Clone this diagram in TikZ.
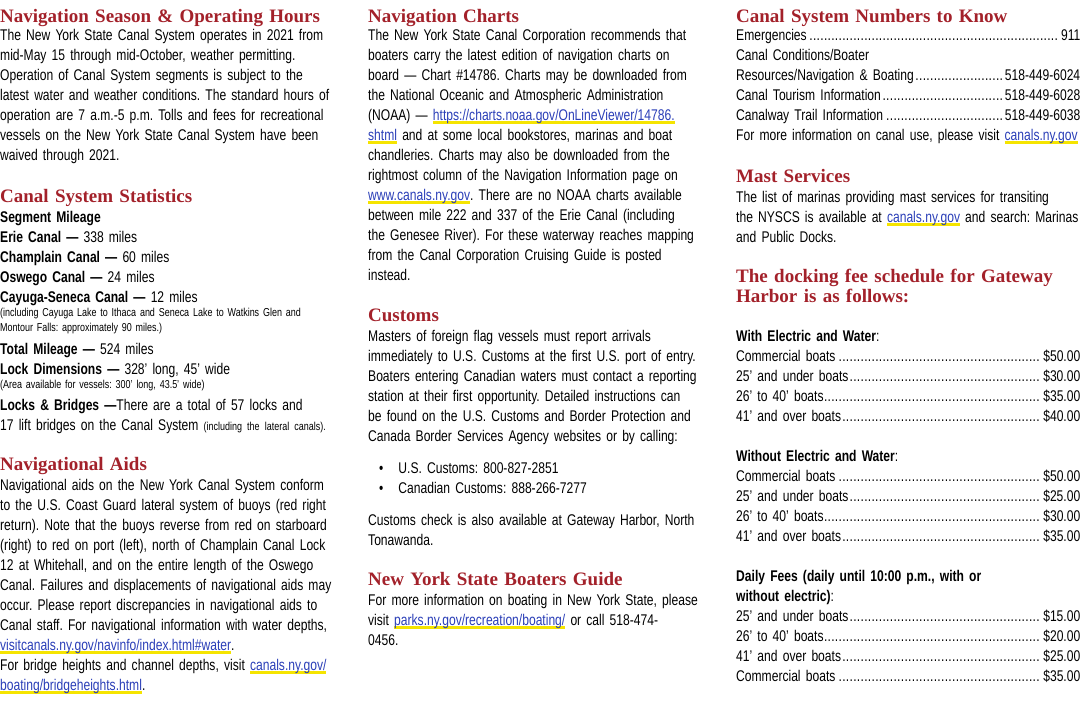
\documentclass[tikz,border=0pt]{standalone}
\usepackage{fontspec}
\setmainfont[FakeStretch=0.78]{Liberation Sans}
\newfontfamily\headfont{Liberation Serif}
\definecolor{headred}{HTML}{A3212A}
\definecolor{linkblue}{HTML}{2B3FB8}
\definecolor{linkyellow}{HTML}{F5E400}
\newcommand\body{\fontsize{15.5}{20}\selectfont\frenchspacing}
\newcommand\smalltxt{\fontsize{11.5}{20}\selectfont}
\newcommand\dotlead{\leaders\hbox{.\kern0.3pt}\hskip 0pt plus 1fill}
\newsavebox\lnkbox
\newcommand\lnk[1]{\leavevmode\sbox\lnkbox{\textcolor{linkblue}{#1}}\rlap{\textcolor{linkyellow}{\rule[-.45ex]{\wd\lnkbox}{.3ex}}}\usebox\lnkbox}
\begin{document}
\begin{tikzpicture}
	[
		x=1pt,y=-1pt,
		txt/.style={anchor=north west,inner sep=0pt,align=left,font=\body,text width=360pt},
		fee/.style={txt,text width=344pt},
		head/.style={anchor=north west,inner sep=0pt,align=left,text width=360pt,
			font=\headfont\bfseries\fontsize{19}{20}\selectfont,text=headred}
	]
	\useasboundingbox[fill=white] (0,0) rectangle (1080,720);
	
	% Left column.
	\node[head] (season) at (0,8) {\strut Navigation Season \& Operating Hours};
	\node[txt] (seasontxt) at (0,26) {\strut The New York State Canal System operates in 2021 from\\
		mid-May 15 through mid-October, weather permitting.\\
		Operation of Canal System segments is subject to the\\
		latest water and weather conditions. The standard hours of\\
		operation are 7 a.m.-5 p.m. Tolls and fees for recreational\\
		vessels on the New York State Canal System have been\\
		waived through 2021.};
	\node[head] (stats) at (0,188) {\strut Canal System Statistics};
	\node[txt] (mileage) at (0,208) {\strut\textbf{Segment Mileage}\\
		\textbf{Erie Canal —} 338 miles\\
		\textbf{Champlain Canal —} 60 miles\\
		\textbf{Oswego Canal —} 24 miles\\
		\textbf{Cayuga-Seneca Canal —} 12 miles};
	\node[txt,font=\fontsize{11.5}{15}\selectfont\frenchspacing] (cayuga) at (0,308) {(including Cayuga Lake to Ithaca and Seneca Lake to Watkins Glen and\\
		Montour Falls: approximately 90 miles.)};
	\node[txt] (total) at (0,340) {\strut\textbf{Total Mileage —} 524 miles\\
		\textbf{Lock Dimensions —} 328’ long, 45’ wide};
	\node[txt,font=\fontsize{11.5}{15}\selectfont\frenchspacing] (area) at (0,380) {(Area available for vessels: 300’ long, 43.5’ wide)};
	\node[txt] (locks) at (0,396) {\strut\textbf{Locks \& Bridges —}There are a total of 57 locks and\\
		17 lift bridges on the Canal System {\smalltxt(including the lateral canals).}};
	\node[head] (aids) at (0,456) {\strut Navigational Aids};
	\node[txt] (aidstxt) at (0,476) {\strut Navigational aids on the New York Canal System conform\\
		to the U.S. Coast Guard lateral system of buoys (red right\\
		return). Note that the buoys reverse from red on starboard\\
		(right) to red on port (left), north of Champlain Canal Lock\\
		12 at Whitehall, and on the entire length of the Oswego\\
		Canal. Failures and displacements of navigational aids may\\
		occur. Please report discrepancies in navigational aids to\\
		Canal staff. For navigational information with water depths,\\
		\lnk{visitcanals.ny.gov/navinfo/index.html\#water}.\\
		For bridge heights and channel depths, visit \lnk{canals.ny.gov/}\\
		\lnk{boating/bridgeheights.html}.};
	
	% Middle column.
	\node[head] (charts) at (368,8) {\strut Navigation Charts};
	\node[txt] (chartstxt) at (368,26) {\strut The New York State Canal Corporation recommends that\\
		boaters carry the latest edition of navigation charts on\\
		board — Chart \#14786. Charts may be downloaded from\\
		the National Oceanic and Atmospheric Administration\\
		(NOAA) — \lnk{https://charts.noaa.gov/OnLineViewer/14786.}\\
		\lnk{shtml} and at some local bookstores, marinas and boat\\
		chandleries. Charts may also be downloaded from the\\
		rightmost column of the Navigation Information page on\\
		\lnk{www.canals.ny.gov}. There are no NOAA charts available\\
		between mile 222 and 337 of the Erie Canal (including\\
		the Genesee River). For these waterway reaches mapping\\
		from the Canal Corporation Cruising Guide is posted\\
		instead.};
	\node[head] (customs) at (368,307) {\strut Customs};
	\node[txt] (customstxt) at (368,327) {\strut Masters of foreign flag vessels must report arrivals\\
		immediately to U.S. Customs at the first U.S. port of entry.\\
		Boaters entering Canadian waters must contact a reporting\\
		station at their first opportunity. Detailed instructions can\\
		be found on the U.S. Customs and Border Protection and\\
		Canada Border Services Agency websites or by calling:};
	\node[txt] (bullets) at (368,459) {\strut\hspace*{11pt}•\hspace{15pt}U.S. Customs: 800-827-2851\\
		\hspace*{11pt}•\hspace{15pt}Canadian Customs: 888-266-7277};
	\node[txt] (gateway) at (368,511) {\strut Customs check is also available at Gateway Harbor, North\\
		Tonawanda.};
	\node[head] (guide) at (368,571) {\strut New York State Boaters Guide};
	\node[txt] (guidetxt) at (368,591) {\strut For more information on boating in New York State, please\\
		visit \lnk{parks.ny.gov/recreation/boating/} or call 518-474-\\
		0456.};
	
	% Right column.
	\node[head] (numbers) at (736,8) {\strut Canal System Numbers to Know};
	\node[fee] (numberstxt) at (736,26) {\strut Emergencies\dotlead 911\\
		Canal Conditions/Boater\\
		Resources/Navigation \& Boating\dotlead 518-449-6024\\
		Canal Tourism Information\dotlead 518-449-6028\\
		Canalway Trail Information\dotlead 518-449-6038\\
		For more information on canal use, please visit \lnk{canals.ny.gov}};
	\node[head] (mast) at (736,168) {\strut Mast Services};
	\node[txt] (masttxt) at (736,188) {\strut The list of marinas providing mast services for transiting\\
		the NYSCS is available at \lnk{canals.ny.gov} and search: Marinas\\
		and Public Docks.};
	\node[head] (docking) at (736,268) {\strut The docking fee schedule for Gateway\\
		Harbor is as follows:};
	\node[fee] (withfee) at (736,327) {\strut\textbf{With Electric and Water}:\\
		Commercial boats\dotlead\$50.00\\
		25’ and under boats\dotlead\$30.00\\
		26’ to 40’ boats\dotlead\$35.00\\
		41’ and over boats\dotlead\$40.00};
	\node[fee] (withoutfee) at (736,447) {\strut\textbf{Without Electric and Water}:\\
		Commercial boats\dotlead\$50.00\\
		25’ and under boats\dotlead\$25.00\\
		26’ to 40’ boats\dotlead\$30.00\\
		41’ and over boats\dotlead\$35.00};
	\node[fee] (dailyfee) at (736,567) {\strut\textbf{Daily Fees (daily until 10:00 p.m., with or}\\
		\textbf{without electric)}:\\
		25’ and under boats\dotlead\$15.00\\
		26’ to 40’ boats\dotlead\$20.00\\
		41’ and over boats\dotlead\$25.00\\
		Commercial boats\dotlead\$35.00};
\end{tikzpicture}
\end{document}
